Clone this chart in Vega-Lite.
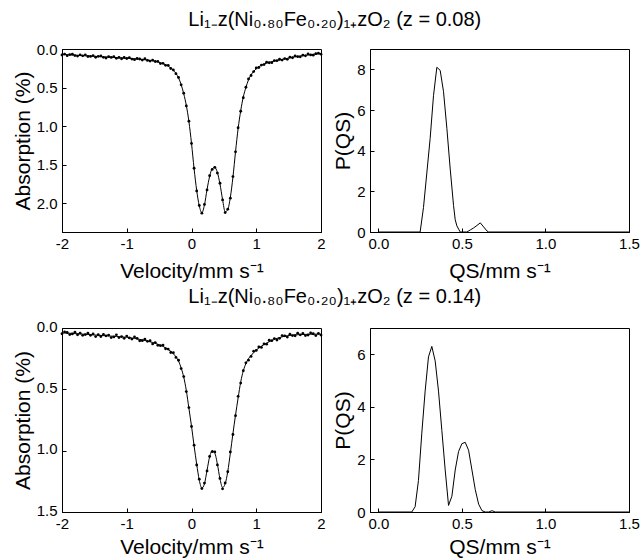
{
 "$schema": "https://vega.github.io/schema/vega-lite/v6.json",
 "background": "white",
 "padding": {"left": 11, "top": 9, "right": 0, "bottom": 0},
 "config": {
  "font": "Liberation Sans",
  "view": {"stroke": "black", "strokeWidth": 1},
  "axis": {"grid": false, "domainColor": "black", "tickColor": "black", "labelColor": "black", "titleColor": "black", "labelFont": "Liberation Sans", "titleFont": "Liberation Sans", "labelFontSize": 15, "titleFontSize": 21, "titleFontWeight": "normal", "tickSize": -4, "labelFlush": false, "labelOverlap": false},
  "axisX": {"titlePadding": 9, "labelPadding": 8},
  "axisY": {"titlePadding": 3, "labelPadding": 9},
  "title": {"font": "Liberation Sans", "fontSize": 20, "fontWeight": "normal", "color": "black", "anchor": "middle"}
 },
 "datasets": {
  "s1": [
   {"v":-2.00,"a":0.078,"f":0.070},{"v":-1.96,"a":0.066,"f":0.072},{"v":-1.92,"a":0.086,"f":0.074},{"v":-1.88,"a":0.072,"f":0.076},{"v":-1.84,"a":0.067,"f":0.078},
   {"v":-1.80,"a":0.085,"f":0.080},{"v":-1.76,"a":0.092,"f":0.082},{"v":-1.72,"a":0.076,"f":0.084},{"v":-1.68,"a":0.088,"f":0.086},{"v":-1.64,"a":0.075,"f":0.088},
   {"v":-1.60,"a":0.097,"f":0.090},{"v":-1.56,"a":0.096,"f":0.092},{"v":-1.52,"a":0.085,"f":0.094},{"v":-1.48,"a":0.107,"f":0.096},{"v":-1.44,"a":0.095,"f":0.098},
   {"v":-1.40,"a":0.090,"f":0.100},{"v":-1.36,"a":0.108,"f":0.102},{"v":-1.32,"a":0.117,"f":0.104},{"v":-1.28,"a":0.099,"f":0.106},{"v":-1.24,"a":0.109,"f":0.108},
   {"v":-1.20,"a":0.098,"f":0.110},{"v":-1.16,"a":0.121,"f":0.112},{"v":-1.12,"a":0.109,"f":0.114},{"v":-1.08,"a":0.126,"f":0.116},{"v":-1.04,"a":0.110,"f":0.118},
   {"v":-1.00,"a":0.123,"f":0.120},{"v":-0.96,"a":0.111,"f":0.122},{"v":-0.92,"a":0.131,"f":0.124},{"v":-0.88,"a":0.138,"f":0.126},{"v":-0.84,"a":0.123,"f":0.129},
   {"v":-0.80,"a":0.130,"f":0.132},{"v":-0.76,"a":0.144,"f":0.135},{"v":-0.72,"a":0.126,"f":0.139},{"v":-0.68,"a":0.148,"f":0.143},{"v":-0.64,"a":0.156,"f":0.148},
   {"v":-0.60,"a":0.144,"f":0.153},{"v":-0.56,"a":0.162,"f":0.160},{"v":-0.52,"a":0.161,"f":0.168},{"v":-0.48,"a":0.189,"f":0.178},{"v":-0.44,"a":0.186,"f":0.190},
   {"v":-0.40,"a":0.211,"f":0.205},{"v":-0.36,"a":0.212,"f":0.222},{"v":-0.32,"a":0.253,"f":0.245},{"v":-0.28,"a":0.272,"f":0.275},{"v":-0.24,"a":0.320,"f":0.315},
   {"v":-0.20,"a":0.369,"f":0.375},{"v":-0.16,"a":0.464,"f":0.460},{"v":-0.12,"a":0.572,"f":0.580},{"v":-0.08,"a":0.737,"f":0.730},{"v":-0.04,"a":0.935,"f":0.940},
   {"v":0.00,"a":1.223,"f":1.220},{"v":0.04,"a":1.544,"f":1.550},{"v":0.08,"a":1.838,"f":1.830},{"v":0.12,"a":2.026,"f":2.030},{"v":0.16,"a":2.126,"f":2.120},
   {"v":0.20,"a":2.013,"f":2.020},{"v":0.24,"a":1.825,"f":1.820},{"v":0.28,"a":1.641,"f":1.650},{"v":0.32,"a":1.560,"f":1.550},{"v":0.36,"a":1.532,"f":1.535},
   {"v":0.40,"a":1.607,"f":1.600},{"v":0.44,"a":1.739,"f":1.750},{"v":0.48,"a":1.954,"f":1.950},{"v":0.52,"a":2.119,"f":2.110},{"v":0.56,"a":2.074,"f":2.080},
   {"v":0.60,"a":1.932,"f":1.920},{"v":0.64,"a":1.652,"f":1.660},{"v":0.68,"a":1.332,"f":1.330},{"v":0.72,"a":1.020,"f":1.030},{"v":0.76,"a":0.806,"f":0.800},
   {"v":0.80,"a":0.631,"f":0.620},{"v":0.84,"a":0.495,"f":0.500},{"v":0.88,"a":0.388,"f":0.400},{"v":0.92,"a":0.343,"f":0.335},{"v":0.96,"a":0.293,"f":0.290},
   {"v":1.00,"a":0.246,"f":0.255},{"v":1.04,"a":0.240,"f":0.230},{"v":1.08,"a":0.208,"f":0.210},{"v":1.12,"a":0.202,"f":0.195},{"v":1.16,"a":0.170,"f":0.183},
   {"v":1.20,"a":0.178,"f":0.173},{"v":1.24,"a":0.177,"f":0.165},{"v":1.28,"a":0.150,"f":0.157},{"v":1.32,"a":0.151,"f":0.150},{"v":1.36,"a":0.133,"f":0.143},
   {"v":1.40,"a":0.144,"f":0.135},{"v":1.44,"a":0.124,"f":0.128},{"v":1.48,"a":0.134,"f":0.121},{"v":1.52,"a":0.106,"f":0.114},{"v":1.56,"a":0.113,"f":0.107},
   {"v":1.60,"a":0.090,"f":0.101},{"v":1.64,"a":0.099,"f":0.096},{"v":1.68,"a":0.101,"f":0.091},{"v":1.72,"a":0.080,"f":0.086},{"v":1.76,"a":0.089,"f":0.081},
   {"v":1.80,"a":0.065,"f":0.077},{"v":1.84,"a":0.077,"f":0.073},{"v":1.88,"a":0.080,"f":0.069},{"v":1.92,"a":0.061,"f":0.066},{"v":1.96,"a":0.054,"f":0.063},
   {"v":2.00,"a":0.067,"f":0.060}
  ],
  "s2": [
   {"v":-2.00,"a":0.047,"f":0.040},{"v":-1.96,"a":0.032,"f":0.041},{"v":-1.92,"a":0.037,"f":0.042},{"v":-1.88,"a":0.054,"f":0.043},{"v":-1.84,"a":0.048,"f":0.044},
   {"v":-1.80,"a":0.034,"f":0.046},{"v":-1.76,"a":0.055,"f":0.047},{"v":-1.72,"a":0.042,"f":0.048},{"v":-1.68,"a":0.060,"f":0.050},{"v":-1.64,"a":0.054,"f":0.051},
   {"v":-1.60,"a":0.042,"f":0.053},{"v":-1.56,"a":0.060,"f":0.054},{"v":-1.52,"a":0.048,"f":0.056},{"v":-1.48,"a":0.070,"f":0.057},{"v":-1.44,"a":0.055,"f":0.059},
   {"v":-1.40,"a":0.069,"f":0.060},{"v":-1.36,"a":0.052,"f":0.062},{"v":-1.32,"a":0.064,"f":0.063},{"v":-1.28,"a":0.058,"f":0.065},{"v":-1.24,"a":0.078,"f":0.066},
   {"v":-1.20,"a":0.073,"f":0.068},{"v":-1.16,"a":0.056,"f":0.069},{"v":-1.12,"a":0.078,"f":0.071},{"v":-1.08,"a":0.070,"f":0.072},{"v":-1.04,"a":0.084,"f":0.074},
   {"v":-1.00,"a":0.066,"f":0.075},{"v":-0.96,"a":0.081,"f":0.078},{"v":-0.92,"a":0.090,"f":0.082},{"v":-0.88,"a":0.073,"f":0.085},{"v":-0.84,"a":0.084,"f":0.089},
   {"v":-0.80,"a":0.104,"f":0.093},{"v":-0.76,"a":0.103,"f":0.097},{"v":-0.72,"a":0.092,"f":0.102},{"v":-0.68,"a":0.109,"f":0.107},{"v":-0.64,"a":0.104,"f":0.112},
   {"v":-0.60,"a":0.130,"f":0.118},{"v":-0.56,"a":0.119,"f":0.125},{"v":-0.52,"a":0.141,"f":0.132},{"v":-0.48,"a":0.144,"f":0.140},{"v":-0.44,"a":0.139,"f":0.150},
   {"v":-0.40,"a":0.169,"f":0.162},{"v":-0.36,"a":0.172,"f":0.175},{"v":-0.32,"a":0.200,"f":0.190},{"v":-0.28,"a":0.201,"f":0.210},{"v":-0.24,"a":0.240,"f":0.235},
   {"v":-0.20,"a":0.263,"f":0.270},{"v":-0.16,"a":0.331,"f":0.325},{"v":-0.12,"a":0.396,"f":0.400},{"v":-0.08,"a":0.518,"f":0.510},{"v":-0.04,"a":0.649,"f":0.655},
   {"v":0.00,"a":0.803,"f":0.800},{"v":0.04,"a":0.955,"f":0.960},{"v":0.08,"a":1.117,"f":1.110},{"v":0.12,"a":1.232,"f":1.240},{"v":0.16,"a":1.309,"f":1.305},
   {"v":0.20,"a":1.264,"f":1.270},{"v":0.24,"a":1.165,"f":1.160},{"v":0.28,"a":1.047,"f":1.050},{"v":0.32,"a":1.008,"f":1.000},{"v":0.36,"a":1.010,"f":1.020},
   {"v":0.40,"a":1.116,"f":1.110},{"v":0.44,"a":1.226,"f":1.230},{"v":0.48,"a":1.311,"f":1.300},{"v":0.52,"a":1.263,"f":1.270},{"v":0.56,"a":1.172,"f":1.170},
   {"v":0.60,"a":1.011,"f":1.020},{"v":0.64,"a":0.868,"f":0.860},{"v":0.68,"a":0.715,"f":0.710},{"v":0.72,"a":0.557,"f":0.570},{"v":0.76,"a":0.449,"f":0.440},
   {"v":0.80,"a":0.348,"f":0.350},{"v":0.84,"a":0.284,"f":0.290},{"v":0.88,"a":0.262,"f":0.250},{"v":0.92,"a":0.232,"f":0.225},{"v":0.96,"a":0.189,"f":0.200},
   {"v":1.00,"a":0.183,"f":0.180},{"v":1.04,"a":0.155,"f":0.163},{"v":1.08,"a":0.158,"f":0.148},{"v":1.12,"a":0.130,"f":0.135},{"v":1.16,"a":0.132,"f":0.123},
   {"v":1.20,"a":0.100,"f":0.112},{"v":1.24,"a":0.103,"f":0.102},{"v":1.28,"a":0.086,"f":0.093},{"v":1.32,"a":0.098,"f":0.085},{"v":1.36,"a":0.084,"f":0.078},
   {"v":1.40,"a":0.062,"f":0.072},{"v":1.44,"a":0.064,"f":0.067},{"v":1.48,"a":0.074,"f":0.063},{"v":1.52,"a":0.051,"f":0.060},{"v":1.56,"a":0.062,"f":0.058},
   {"v":1.60,"a":0.063,"f":0.056},{"v":1.64,"a":0.042,"f":0.055},{"v":1.68,"a":0.056,"f":0.054},{"v":1.72,"a":0.045,"f":0.053},{"v":1.76,"a":0.062,"f":0.052},
   {"v":1.80,"a":0.057,"f":0.052},{"v":1.84,"a":0.040,"f":0.051},{"v":1.88,"a":0.047,"f":0.051},{"v":1.92,"a":0.062,"f":0.050},{"v":1.96,"a":0.044,"f":0.050},
   {"v":2.00,"a":0.058,"f":0.050}
  ],
  "q1": [
   {"qs":0,"p":0},{"qs":0.25,"p":0},{"qs":0.27,"p":1.2},{"qs":0.29,"p":2.9},{"qs":0.31,"p":4.6},{"qs":0.33,"p":6.7},{"qs":0.35,"p":8.1},{"qs":0.37,"p":7.95},
   {"qs":0.39,"p":6.9},{"qs":0.41,"p":5.1},{"qs":0.43,"p":3.1},{"qs":0.45,"p":1.3},{"qs":0.46,"p":0.6},{"qs":0.47,"p":0.3},{"qs":0.49,"p":0},{"qs":0.53,"p":0},
   {"qs":0.55,"p":0.1},{"qs":0.57,"p":0.2},{"qs":0.59,"p":0.32},{"qs":0.61,"p":0.45},{"qs":0.63,"p":0.25},{"qs":0.65,"p":0.05},{"qs":0.66,"p":0},{"qs":1.5,"p":0}
  ],
  "q2": [
   {"qs":0,"p":0},{"qs":0.2,"p":0},{"qs":0.22,"p":0.2},{"qs":0.24,"p":1.2},{"qs":0.26,"p":3.0},{"qs":0.28,"p":4.6},{"qs":0.30,"p":5.9},{"qs":0.32,"p":6.3},
   {"qs":0.34,"p":5.75},{"qs":0.36,"p":4.6},{"qs":0.38,"p":3.1},{"qs":0.40,"p":1.6},{"qs":0.42,"p":0.25},{"qs":0.44,"p":0.6},{"qs":0.46,"p":1.6},{"qs":0.48,"p":2.3},
   {"qs":0.50,"p":2.6},{"qs":0.52,"p":2.65},{"qs":0.54,"p":2.35},{"qs":0.56,"p":1.6},{"qs":0.58,"p":0.85},{"qs":0.60,"p":0.3},{"qs":0.62,"p":0.05},{"qs":0.64,"p":0},
   {"qs":0.66,"p":0},{"qs":0.68,"p":0.05},{"qs":0.70,"p":0},{"qs":1.5,"p":0}
  ]
 },
 "spacing": 4,
 "vconcat": [
  {
   "title": {"text": "Li₁₋z(Ni₀.₈₀Fe₀.₂₀)₁₊zO₂   (z = 0.08)", "offset": 12, "dx": 9},
   "spacing": 6,
   "hconcat": [
    {
     "width": 259, "height": 183,
     "data": {"name": "s1"},
     "encoding": {"x": {"field": "v", "type": "quantitative", "scale": {"domain": [-2, 2], "nice": false, "zero": false}, "axis": {"values": [-2, -1, 0, 1, 2], "labelExpr": "datum.value", "title": "Velocity/mm s⁻¹"}}},
     "layer": [
      {"mark": {"type": "circle", "size": 8, "color": "black", "opacity": 1},
       "encoding": {"y": {"field": "a", "type": "quantitative", "scale": {"domain": [0, 2.37], "reverse": true, "nice": false, "zero": false}, "axis": {"values": [0, 0.5, 1, 1.5, 2], "format": ".1f", "title": "Absorption (%)"}}}},
      {"mark": {"type": "line", "color": "black", "strokeWidth": 1, "interpolate": "monotone"},
       "encoding": {"y": {"field": "f", "type": "quantitative", "scale": {"domain": [0, 2.37], "reverse": true, "nice": false, "zero": false}, "axis": {"values": [0, 0.5, 1, 1.5, 2], "format": ".1f", "title": "Absorption (%)"}}}}
     ]
    },
    {
     "width": 259, "height": 183,
     "data": {"name": "q1"},
     "mark": {"type": "line", "color": "black", "strokeWidth": 1},
     "encoding": {
      "x": {"field": "qs", "type": "quantitative", "scale": {"domain": [-0.05, 1.5], "nice": false, "zero": false}, "axis": {"values": [0, 0.5, 1, 1.5], "format": ".1f", "title": "QS/mm s⁻¹"}},
      "y": {"field": "p", "type": "quantitative", "scale": {"domain": [0, 9], "nice": false}, "axis": {"values": [0, 2, 4, 6, 8], "format": "d", "title": "P(QS)"}}
     }
    }
   ]
  },
  {
   "title": {"text": "Li₁₋z(Ni₀.₈₀Fe₀.₂₀)₁₊zO₂   (z = 0.14)", "offset": 12, "dx": 9},
   "spacing": 6,
   "hconcat": [
    {
     "width": 259, "height": 184,
     "data": {"name": "s2"},
     "encoding": {"x": {"field": "v", "type": "quantitative", "scale": {"domain": [-2, 2], "nice": false, "zero": false}, "axis": {"values": [-2, -1, 0, 1, 2], "labelExpr": "datum.value", "title": "Velocity/mm s⁻¹", "titlePadding": 5}}},
     "layer": [
      {"mark": {"type": "circle", "size": 8, "color": "black", "opacity": 1},
       "encoding": {"y": {"field": "a", "type": "quantitative", "scale": {"domain": [0, 1.5], "reverse": true, "nice": false, "zero": false}, "axis": {"values": [0, 0.5, 1, 1.5], "format": ".1f", "title": "Absorption (%)", "labelOffset": -2}}}},
      {"mark": {"type": "line", "color": "black", "strokeWidth": 1, "interpolate": "monotone"},
       "encoding": {"y": {"field": "f", "type": "quantitative", "scale": {"domain": [0, 1.5], "reverse": true, "nice": false, "zero": false}, "axis": {"values": [0, 0.5, 1, 1.5], "format": ".1f", "title": "Absorption (%)", "labelOffset": -2}}}}
     ]
    },
    {
     "width": 259, "height": 184,
     "data": {"name": "q2"},
     "mark": {"type": "line", "color": "black", "strokeWidth": 1},
     "encoding": {
      "x": {"field": "qs", "type": "quantitative", "scale": {"domain": [-0.05, 1.5], "nice": false, "zero": false}, "axis": {"values": [0, 0.5, 1, 1.5], "format": ".1f", "title": "QS/mm s⁻¹", "titlePadding": 5}},
      "y": {"field": "p", "type": "quantitative", "scale": {"domain": [0, 7], "nice": false}, "axis": {"values": [0, 2, 4, 6], "format": "d", "title": "P(QS)"}}
     }
    }
   ]
  }
 ]
}
